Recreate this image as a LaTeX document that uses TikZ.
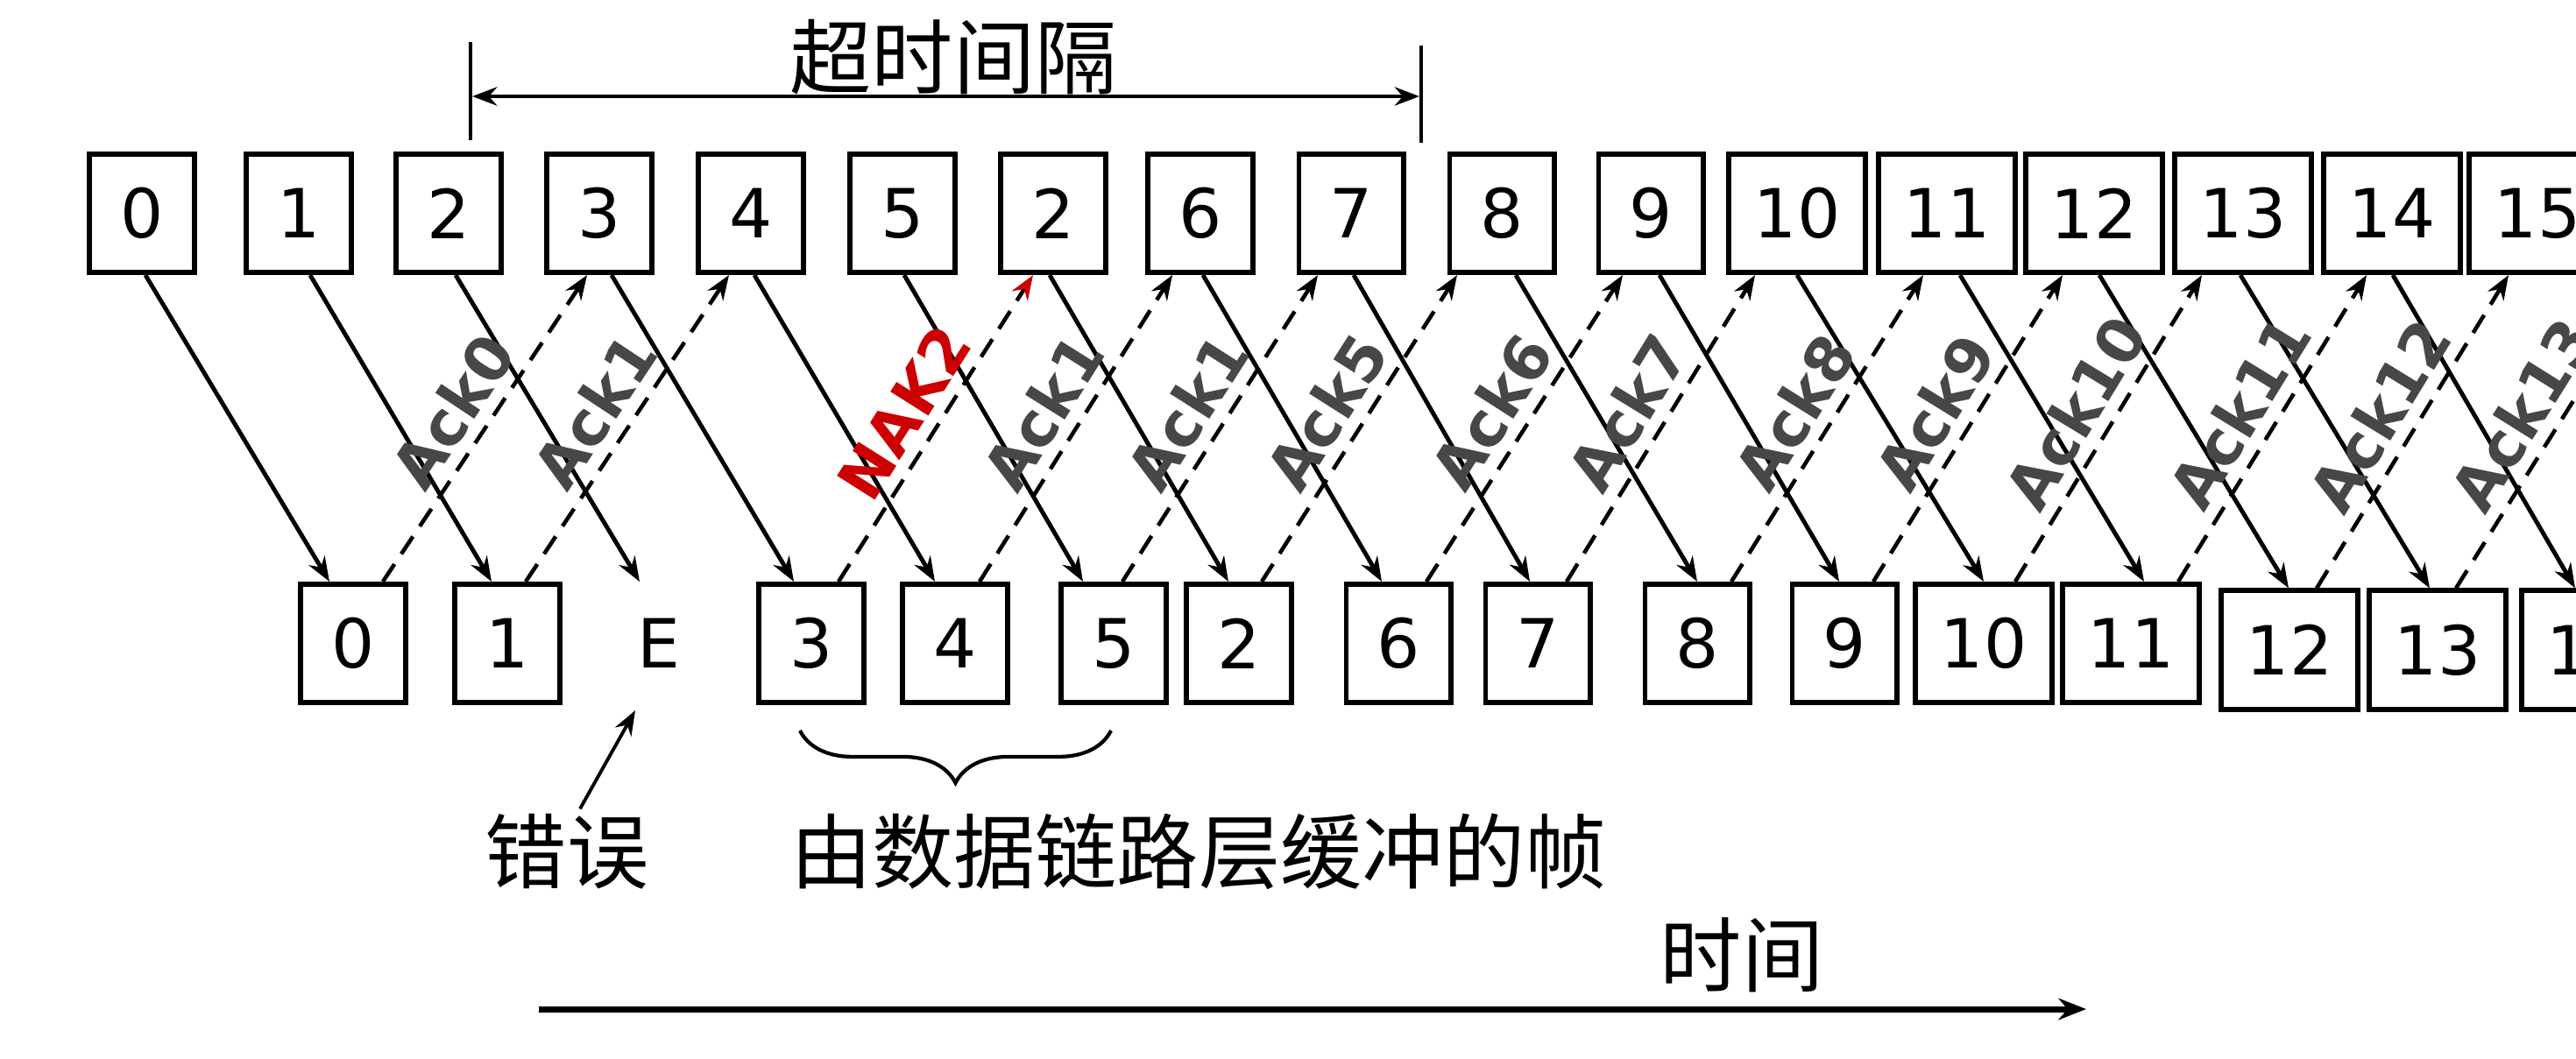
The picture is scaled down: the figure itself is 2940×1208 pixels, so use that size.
\documentclass[tikz,border=0pt]{standalone}
\usepackage{fontspec}
\setmainfont{DejaVu Sans}
\newfontfamily\cjkfont{Noto Sans CJK SC}
\usetikzlibrary{arrows.meta,calc,decorations.pathreplacing}
\begin{document}
\begin{tikzpicture}[x=0.01cm,y=-0.01cm,
 fr/.style={draw, line width=1.7pt, minimum width=1.19cm, minimum height=1.35cm, inner sep=0pt, font=\fontsize{22}{26}\selectfont},
 frw/.style={fr, minimum width=1.56cm},
 tipa/.style={-{Stealth[length=8pt,width=6pt]}},
 dat/.style={line width=1.4pt, tipa},
 ackl/.style={line width=1.3pt, dash pattern=on 6.8pt off 4pt, tipa},
 lab/.style={sloped, pos=0.49, above=3.5pt, inner sep=0pt, font=\fontsize{20}{24}\selectfont\bfseries, text=black!72},
 cjk/.style={font=\fontsize{26.5}{30}\selectfont\cjkfont, inner sep=0pt}
]
\useasboundingbox (0,0) rectangle (2940,1208);
\clip (0,0) rectangle (2940,1208);
\fill[white] (0,0) rectangle (2940,1208);

% top row (sender)
\foreach \n/\x/\t in {0/162/0, 1/341/1, 2/512/2, 3/684/3, 4/857/4, 5/1030/5, 2p/1202/2, 6/1370/6, 7/1542/7, 8/1714/8, 9/1884/9}
  \node[fr] (t\n) at (\x,243.5) {\t};
\foreach \n/\x in {10/2051, 11/2222, 12/2390, 13/2560, 14/2730, 15/2896}
  \node[frw] (t\n) at (\x,243.5) {\n};

% bottom row (receiver)
\foreach \n/\x/\t in {0/403/0, 1/579/1, 3/926/3, 4/1090/4, 5/1271/5, 2p/1414/2, 6/1596/6, 7/1755/7, 8/1937/8, 9/2105/9}
  \node[fr] (b\n) at (\x,734.5) {\t};
\node[fr, draw=none] (bE) at (752,734.5) {E};
\foreach \n/\x/\y in {10/2264/734.5, 11/2432/734.5, 12/2613/742, 13/2782/742, 14/2956/742}
  \node[frw] (b\n) at (\x,\y) {\n};

% data frames
\foreach \a/\da/\b/\db in {0/4/0/-27, 1/13/1/-18, 2/8/E/-22, 3/14/3/-20, 4/4/4/-23, 5/2/5/-35, 2p/-4/2p/-12, 6/3/6/-19, 7/3/7/-9, 8/16/8/0, 9/10/9/-6, 10/0/10/0, 11/15/11/15, 12/6/12/-1, 13/-3/13/-9, 14/1/14/-17}
  \draw[dat] ($(t\a.south)+(\da,0)$) -- ($(b\b.north)+(\db,0)$);

% acknowledgements
\foreach \b/\db/\a/\da/\l in {0/34/3/-14/Ack0, 1/21/4/-25/Ack1, 4/28/6/-32/Ack1, 5/10/7/-38/Ack1, 2p/26/8/-51/Ack5, 6/32/9/-32/Ack6, 7/33/10/-48/Ack7, 8/39/11/-27/Ack8, 9/33/12/-36/Ack9, 10/36/13/-47/Ack10, 11/54/14/-29/Ack11, 12/31/15/-33/Ack12}
  \draw[ackl] ($(b\b.north)+(\db,0)$) -- node[lab]{\l} ($(t\a.south)+(\da,0)$);
\draw[ackl, -{Stealth[length=8pt,width=6pt,red!80!black]}] ($(b3.north)+(31,0)$) -- node[lab, text=red!80!black]{NAK2} ($(t2p.south)+(-23,0)$);
\coordinate (a13) at (3028,312);
\draw[ackl] ($(b13.north)+(21,0)$) -- node[lab]{Ack13} (a13);

% timeout interval
\draw[line width=1.2pt] (537,48) -- (537,160);
\draw[line width=1.2pt] (1622,52) -- (1622,163);
\coordinate (tol) at (539,110);
\coordinate (tor) at (1620,110);
\draw[line width=1.3pt, {Stealth[length=8pt,width=6pt]}-{Stealth[length=8pt,width=6pt]}] (tol) -- (tor);
\node[cjk] (tolab) at (1088,65) {超时间隔};

% labels below
\node[cjk] (err) at (647,972) {错误};
\node[cjk] (buf) at (1368,972) {由数据链路层缓冲的帧};
\draw[line width=1.1pt, tipa] ($(err.north)+(15,-5)$) -- ($(bE.south)+(-27,6)$);
\draw[line width=1.2pt, decorate, decoration={brace, mirror, amplitude=17pt}] ($(b3.south)+(-13,29)$) -- ($(b5.south)+(-3,29)$);

% time axis
\coordinate (tax0) at (615,1152);
\coordinate (tax1) at (2381,1152);
\draw[line width=2pt, -{Stealth[length=9pt,width=7pt]}] (tax0) -- (tax1);
\node[cjk] (tlab) at (1988,1090) {时间};
\end{tikzpicture}
\end{document}
